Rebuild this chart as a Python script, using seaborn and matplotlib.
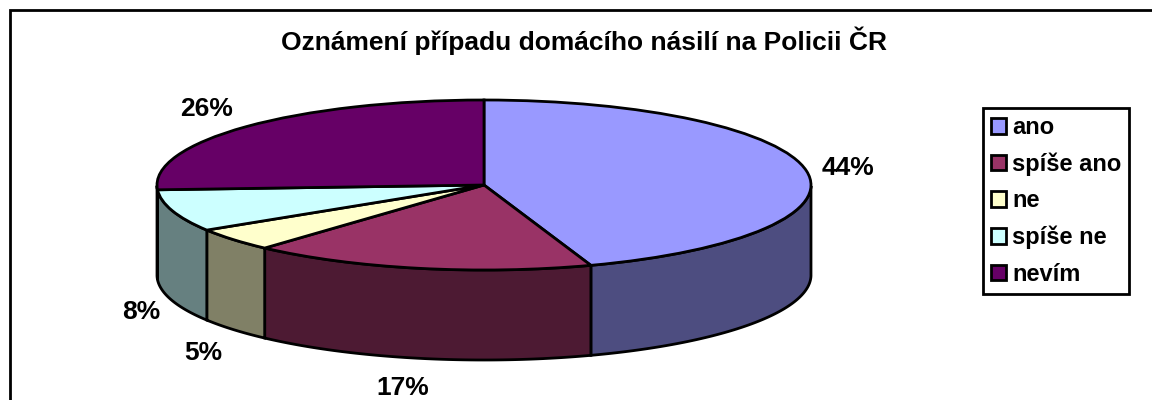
# plot.py
import matplotlib
matplotlib.use("Agg")
import matplotlib.pyplot as plt
import numpy as np
import seaborn as sns
from matplotlib.colors import to_rgb
from matplotlib.patches import Patch

categories = ["ano", "spíše ano", "ne", "spíše ne", "nevím"]
shares = [44.7, 17.0, 4.4, 8.0, 25.9]
pct_labels = ["44%", "17%", "5%", "8%", "26%"]
top_colors = ["#9999FF", "#993366", "#FFFFCC", "#CCFFFF", "#660066"]

title = "Oznámení případu domácího násilí na Policii ČR"

W, H = 1152, 400
LW = 2.0
DEPTH = 90 / 85  # wall height in pie radius units (y)

sns.set_theme(style="white")
plt.rcParams["font.family"] = ["Liberation Sans", "DejaVu Sans"]
plt.rcParams["font.weight"] = "bold"

fig = plt.figure(figsize=(W / 100, H / 100), dpi=100, facecolor="white")

# overlay in pixel coordinates for frame, title, labels
bg = fig.add_axes([0, 0, 1, 1])
bg.set_xlim(0, W)
bg.set_ylim(H, 0)
bg.axis("off")
bg.plot([10, 10, W], [H, 10, 10], color="black", lw=LW, solid_joinstyle="miter")
bg.text(584, 41, title, ha="center", va="center", fontsize=19, fontweight="bold", color="black")

label_pos = [(848, 168), (403, 388), (203, 353), (141, 312), (207, 109)]
for txt, (px, py) in zip(pct_labels, label_pos):
    bg.text(px, py, txt, ha="center", va="center", fontsize=19, fontweight="bold", color="black")

# pie axes: the unit circle maps onto the top ellipse
left, right, top, bottom = 157, 811, 100, 270
ax = fig.add_axes([left / W, 1 - bottom / H, (right - left) / W, (bottom - top) / H])
ax.patch.set_alpha(0)

# side walls, only the front half of the rim
start = 90.0
total = sum(shares)
for share, col in zip(shares, top_colors):
    end = start - share / total * 360
    phi = np.radians(np.linspace(start, end, 200))
    phi = phi[np.sin(phi) <= 0]
    if len(phi) > 1:
        x = np.cos(phi)
        y = np.sin(phi)
        ax.fill(
            np.r_[x, x[::-1]],
            np.r_[y, y[::-1] - DEPTH],
            color=np.array(to_rgb(col)) * 0.5,
            ec="black",
            lw=LW,
            joinstyle="miter",
            clip_on=False,
            zorder=1,
        )
    start = end

wedges, _ = ax.pie(
    shares,
    colors=top_colors,
    startangle=90,
    counterclock=False,
    radius=1,
    wedgeprops={"edgecolor": "black", "linewidth": LW, "clip_on": False, "zorder": 2},
)
ax.set_aspect("auto")
ax.set_xlim(-1, 1)
ax.set_ylim(-1, 1)

handles = [Patch(facecolor=c, edgecolor="black", linewidth=LW) for c in top_colors]
leg = fig.legend(
    handles,
    categories,
    loc="upper left",
    bbox_to_anchor=(983 / W, 1 - 108 / H),
    borderaxespad=0,
    frameon=True,
    fancybox=False,
    framealpha=1,
    edgecolor="black",
    labelcolor="black",
    handlelength=0.64,
    handleheight=0.64,
    handletextpad=0.25,
    labelspacing=0.57,
    borderpad=0.34,
    prop={"family": "Liberation Sans", "weight": "bold", "size": 17},
)
leg.get_frame().set_linewidth(LW)

fig.savefig("out.png", dpi=100)
